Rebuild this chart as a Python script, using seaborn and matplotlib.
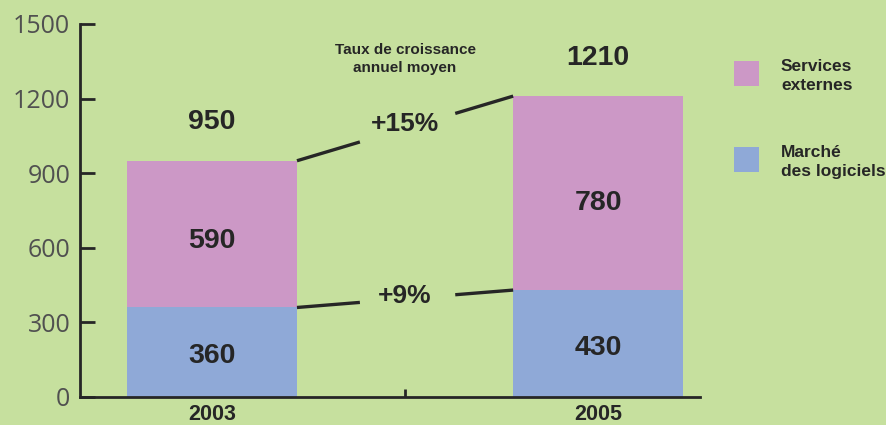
import matplotlib
matplotlib.use("Agg")
import matplotlib.pyplot as plt
from matplotlib.patches import Rectangle
import seaborn as sns
import pandas as pd

# ---- data ----
years = ["2003", "2005"]
logiciels = [360, 430]          # Marché des logiciels
services = [590, 780]           # Services externes
totals = [950, 1210]
growth_services = "+15%"
growth_logiciels = "+9%"
yticks = [0, 300, 600, 900, 1200, 1500]
legend_labels = ["Services\nexternes", "Marché\ndes logiciels"]
growth_title = "Taux de croissance\nannuel moyen"

BG = "#c6e09e"
PINK = "#cc98c6"
BLUE = "#8fa9d7"
DARK = "#262626"
NARROW = ["Liberation Sans Narrow", "Liberation Sans", "DejaVu Sans"]

sns.set_theme(style="white")
plt.rcParams["font.family"] = NARROW

fig = plt.figure(figsize=(8.86, 4.25), dpi=100, facecolor=BG)
W, H = 886, 425
ax = fig.add_axes([80 / W, (H - 397) / H, (700 - 80) / W, (397 - 24) / H])
ax.set_facecolor(BG)

df = pd.DataFrame({"year": years, "total": totals, "logiciels": logiciels})
bw = 0.44
sns.barplot(data=df, x="year", y="total", color=PINK, saturation=1, width=bw, ax=ax)
sns.barplot(data=df, x="year", y="logiciels", color=BLUE, saturation=1, width=bw, ax=ax)
for p in ax.patches:
    p.set_edgecolor("none")

ax.set_xlim(-0.342, 1.264)
ax.set_ylim(0, 1500)
ax.set_xlabel("")
ax.set_ylabel("")

# spines
for s in ["top", "right"]:
    ax.spines[s].set_visible(False)
for s in ["left", "bottom"]:
    ax.spines[s].set_color(DARK)
    ax.spines[s].set_linewidth(2)

ax.set_yticks(yticks)
ax.set_yticklabels([str(v) for v in yticks], family=["Open Sans", "DejaVu Sans"],
                   fontsize=18, color="#505050")
ax.tick_params(axis="y", direction="in", length=11, width=2, color=DARK, pad=7, left=True)

ax.set_xticks([0, 1])
ax.set_xticklabels(years, fontsize=15.5, fontweight="bold", color=DARK)
ax.set_xticks([0.5], minor=True)
ax.tick_params(axis="x", which="major", length=0, pad=5)
ax.tick_params(axis="x", which="minor", direction="in", length=6, width=2, color=DARK, bottom=True)

# value labels
for i in range(len(years)):
    ax.text(i, totals[i] + 155, str(totals[i]), ha="center", va="center",
            fontsize=20.5, fontweight="bold", color=DARK)
    ax.text(i, logiciels[i] + 0.45 * services[i], str(services[i]), ha="center", va="center",
            fontsize=20.5, fontweight="bold", color=DARK)
    ax.text(i, 0.46 * logiciels[i], str(logiciels[i]), ha="center", va="center",
            fontsize=20.5, fontweight="bold", color=DARK)

# connector lines
x0, x1 = bw / 2, 1 - bw / 2
ga, gb = 0.383, 0.63
for ya, yb in [(totals[0], totals[1]), (logiciels[0], logiciels[1])]:
    slope = (yb - ya) / (x1 - x0)
    ax.plot([x0, ga], [ya, ya + slope * (ga - x0)], color=DARK, lw=2.4, solid_capstyle="butt")
    ax.plot([gb, x1], [ya + slope * (gb - x0), yb], color=DARK, lw=2.4, solid_capstyle="butt")

ax.text(0.5, (totals[0] + totals[1]) / 2 + 18, growth_services, ha="center", va="center",
        fontsize=19, fontweight="bold", color=DARK)
ax.text(0.5, (logiciels[0] + logiciels[1]) / 2 + 12, growth_logiciels, ha="center", va="center",
        fontsize=19, fontweight="bold", color=DARK)
ax.text(0.5, 1359, growth_title, ha="center", va="center", fontsize=11,
        fontweight="bold", color=DARK, linespacing=1.35)

# legend (figure coords)
for (ytop, col, lab) in [(61, PINK, legend_labels[0]), (147, BLUE, legend_labels[1])]:
    fig.patches.append(Rectangle((734 / W, (H - ytop - 25) / H), 25 / W, 25 / H,
                                 transform=fig.transFigure, facecolor=col, edgecolor="none"))
    fig.text(781 / W, (H - ytop - 15) / H, lab, ha="left", va="center", fontsize=12.5,
             fontweight="bold", color=DARK, linespacing=1.35)

fig.savefig("out.png", dpi=100, facecolor=BG)
